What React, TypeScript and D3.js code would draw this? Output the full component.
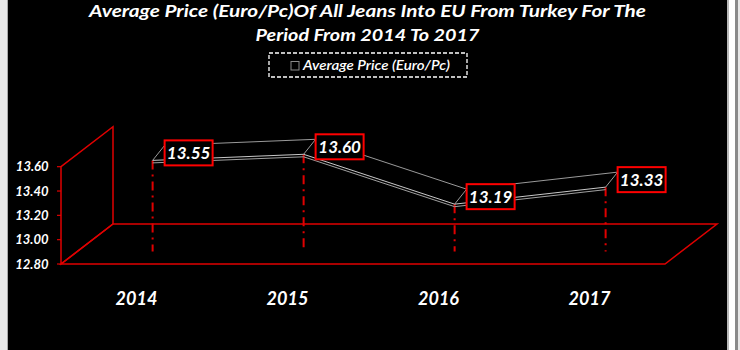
import React from "react";
import * as d3 from "d3";

const categories: string[] = ["2014", "2015", "2016", "2017"];
const values: number[] = [13.55, 13.6, 13.19, 13.33];
const yTicks: number[] = [12.8, 13.0, 13.2, 13.4, 13.6];
const titleLines: string[] = [
  "Average Price (Euro/Pc)Of All Jeans Into EU From Turkey For The",
  "Period From 2014 To 2017",
];
const seriesName = "Average Price (Euro/Pc)";

const W = 740;
const H = 350;
const FONT = "Lato, 'Open Sans', sans-serif";
const RED = "#e00000";

export default function App() {
  const x = d3.scaleBand<string>().domain(categories).range([61, 665]);
  const y = d3.scaleLinear().domain([12.8, 13.6]).range([264, 166.7]);
  const D = { dx: 52, dy: -40 };
  const t0 = 0.31;
  const sOff = { dx: D.dx * t0, dy: D.dy * t0 };
  const back = { dx: 12, dy: -15 };

  const y0 = y(12.8);
  const yTop = y(13.6);
  const xL = x.range()[0];
  const xR = x.range()[1];

  const pts = categories.map((c, i) => [
    (x(c) as number) + x.bandwidth() / 2 + sOff.dx,
    y(values[i]) + sOff.dy,
  ]);
  const line = d3.line<number[]>().x((d) => d[0]).y((d) => d[1]);
  const front = line(pts) as string;
  const front2 = line(pts.map((p) => [p[0], p[1] + 2.5])) as string;
  const backP = line(pts.map((p) => [p[0] + back.dx, p[1] + back.dy])) as string;
  const floorY = y0 + sOff.dy;

  const floor = [
    [xL, y0],
    [xR, y0],
    [xR + D.dx, y0 + D.dy],
    [xL + D.dx, y0 + D.dy],
  ];
  const wall = [
    [xL, y0],
    [xL, yTop],
    [xL + D.dx, yTop + D.dy],
    [xL + D.dx, y0 + D.dy],
  ];
  const poly = (p: number[][]) => p.map((d) => d.join(",")).join(" ");

  return (
    <div style={{ position: "absolute", left: 0, top: 0 }}>
      <svg width={W} height={H} style={{ display: "block" }}>
        <rect x={0} y={0} width={W} height={H} fill="#e8e8e8" />
        <rect x={729} y={0} width={6} height={H} fill="#ffffff" />
        <rect x={735} y={0} width={3} height={H} fill="#8a8a8a" />
        <rect x={7} y={0} width={1} height={H} fill="#a8a8a8" />
        <rect x={727} y={0} width={2} height={H} fill="#b8b8b8" />
        <rect x={8} y={0} width={719} height={H} fill="#000000" />

        {titleLines.map((t, i) => (
          <text
            key={i}
            x={367.5}
            y={16.5 + i * 24}
            textAnchor="middle"
            fill="#ffffff"
            fontFamily={FONT}
            fontWeight="bold"
            fontStyle="italic"
            fontSize={17.5}
            textLength={i === 0 ? 557 : 224}
            lengthAdjust="spacingAndGlyphs"
          >
            {t}
          </text>
        ))}

        <rect
          x={269}
          y={53}
          width={198}
          height={24}
          fill="none"
          stroke="#ffffff"
          strokeWidth={1.3}
          strokeDasharray="4,2"
        />
        <rect x={291} y={61.5} width={8} height={8.5} fill="none" stroke="#8a8a8a" strokeWidth={1} />
        <text
          x={303}
          y={69.5}
          fill="#ffffff"
          fontFamily={FONT}
          fontStyle="italic"
          fontWeight={600}
          fontSize={13.5}
          textLength={147}
          lengthAdjust="spacingAndGlyphs"
        >
          {seriesName}
        </text>

        <polygon points={poly(floor)} fill="none" stroke={RED} strokeWidth={1.5} />
        <polygon points={poly(wall)} fill="none" stroke={RED} strokeWidth={1.5} />

        {yTicks.map((v) => (
          <g key={v}>
            <line x1={xL - 4} x2={xL} y1={y(v)} y2={y(v)} stroke={RED} strokeWidth={1.2} />
            <text
              x={48.5}
              y={y(v) + 4.5}
              textAnchor="end"
              fill="#ffffff"
              fontFamily={FONT}
              fontWeight="bold"
              fontStyle="italic"
              fontSize={13}
            >
              {v.toFixed(2)}
            </text>
          </g>
        ))}

        {categories.map((c) => (
          <text
            key={c}
            x={(x(c) as number) + x.bandwidth() / 2}
            y={305}
            textAnchor="middle"
            fill="#ffffff"
            fontFamily={FONT}
            fontWeight="bold"
            fontStyle="italic"
            fontSize={18}
          >
            {c}
          </text>
        ))}

        {pts.map((p, i) => (
          <line
            key={"drop" + i}
            x1={p[0]}
            x2={p[0]}
            y1={p[1]}
            y2={floorY}
            stroke={RED}
            strokeWidth={2}
            strokeDasharray="9,5,2,5"
          />
        ))}

        <path d={backP} fill="none" stroke="#9a9a9a" strokeWidth={1} />
        {pts.map((p, i) => (
          <line
            key={"con" + i}
            x1={p[0]}
            y1={p[1]}
            x2={p[0] + back.dx}
            y2={p[1] + back.dy}
            stroke="#9a9a9a"
            strokeWidth={1}
          />
        ))}
        <path d={front} fill="none" stroke="#c8c8c8" strokeWidth={1} />
        <path d={front2} fill="none" stroke="#a0a0a0" strokeWidth={1} />

        {pts.map((p, i) => {
          const cx = p[0] + 36;
          const cy = p[1] - 7.5;
          return (
            <g key={"lab" + i}>
              <rect
                x={cx - 24}
                y={cy - 12.5}
                width={48}
                height={25}
                fill="#000000"
                stroke="#ff0000"
                strokeWidth={2}
              />
              <text
                x={cx}
                y={cy + 6}
                textAnchor="middle"
                fill="#ffffff"
                fontFamily={FONT}
                fontWeight="bold"
                fontStyle="italic"
                fontSize={17}
              >
                {values[i].toFixed(2)}
              </text>
            </g>
          );
        })}
      </svg>
    </div>
  );
}
